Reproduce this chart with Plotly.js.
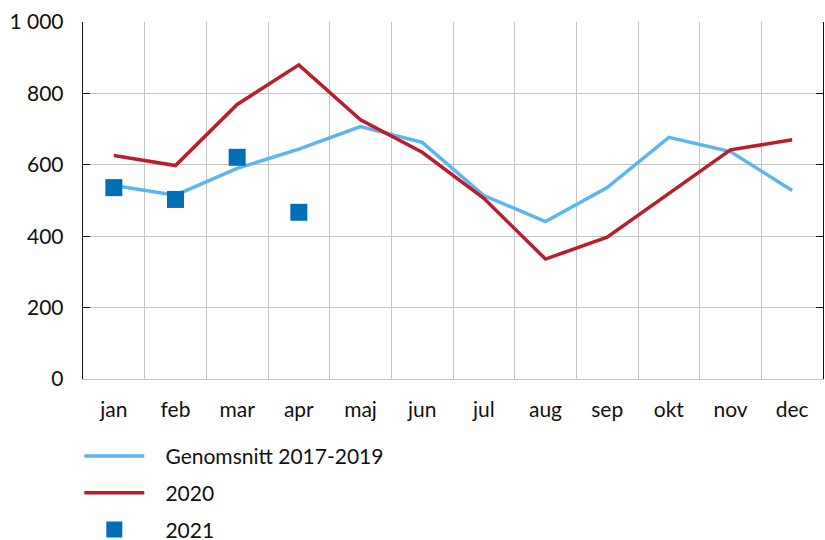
<!DOCTYPE html>
<html>
<head>
<meta charset="utf-8">
<script src="https://cdn.plot.ly/plotly-3.0.1.min.js"></script>
<style>html,body{margin:0;padding:0;background:#fff;}#chart{width:825px;height:540px;}</style>
</head>
<body>
<div id="chart"></div>
<script>
const months = ["jan","feb","mar","apr","maj","jun","jul","aug","sep","okt","nov","dec"];
const avg1719 = [542, 515, 590, 644, 707, 663, 514, 441, 536, 677, 637, 528];
const y2020 = [626, 598, 769, 880, 726, 635, 506, 336, 397, 518, 642, 670];
const months2021 = ["jan","feb","mar","apr"];
const y2021 = [536, 503, 621, 467];
const yTicks = [0, 200, 400, 600, 800, 1000];
const seriesNames = ["Genomsnitt 2017-2019", "2020", "2021"];

const FONT = "Lato, sans-serif";
const pad = "\u00a0\u00a0\u00a0";

const traces = [
  {x: months, y: avg1719, type: "scatter", mode: "lines", name: pad + seriesNames[0],
   line: {color: "#5DB5EF", width: 3.5}, legendgroup: "a"},
  {x: months, y: y2020, type: "scatter", mode: "lines", name: pad + seriesNames[1],
   line: {color: "#BA1E2D", width: 3.5}, legendgroup: "b"},
  {x: months2021, y: y2021, type: "scatter", mode: "markers", name: pad + seriesNames[2],
   marker: {symbol: "square", size: 17, color: "#006FB8"}, legendgroup: "c"}
];

const layout = {
  width: 825, height: 540,
  margin: {l: 83, r: 2, t: 22, b: 161, autoexpand: false},
  paper_bgcolor: "#fff", plot_bgcolor: "#fff",
  font: {family: FONT, size: 21, color: "#111"},
  separators: ", ",
  showlegend: true,
  legend: {x: -0.005, xanchor: "left", y: -0.159, yanchor: "top", orientation: "v",
           tracegroupgap: 6.5, itemwidth: 60, font: {family: FONT, size: 21, color: "#111"},
           bgcolor: "rgba(0,0,0,0)"},
  xaxis: {type: "category", categoryorder: "array", categoryarray: months,
          range: [-0.5, 11.5], autorange: false,
          tickson: "boundaries", showgrid: true, gridcolor: "#c4c4c4", gridwidth: 1,
          ticks: "", showline: true, linecolor: "#c4c4c4", linewidth: 1,
          ticklabelstandoff: 12, zeroline: false, fixedrange: true},
  yaxis: {range: [0, 1000], tickvals: yTicks, tickformat: ",d",
          showgrid: true, gridcolor: "#c4c4c4", gridwidth: 1,
          showline: true, linecolor: "#111", linewidth: 1.3,
          ticks: "inside", ticklen: 7, tickcolor: "#111", tickwidth: 1.3,
          mirror: "ticks", zeroline: false, ticklabelstandoff: 14, fixedrange: true}
};

Plotly.newPlot("chart", traces, layout, {displayModeBar: false, staticPlot: true});
</script>
</body>
</html>
